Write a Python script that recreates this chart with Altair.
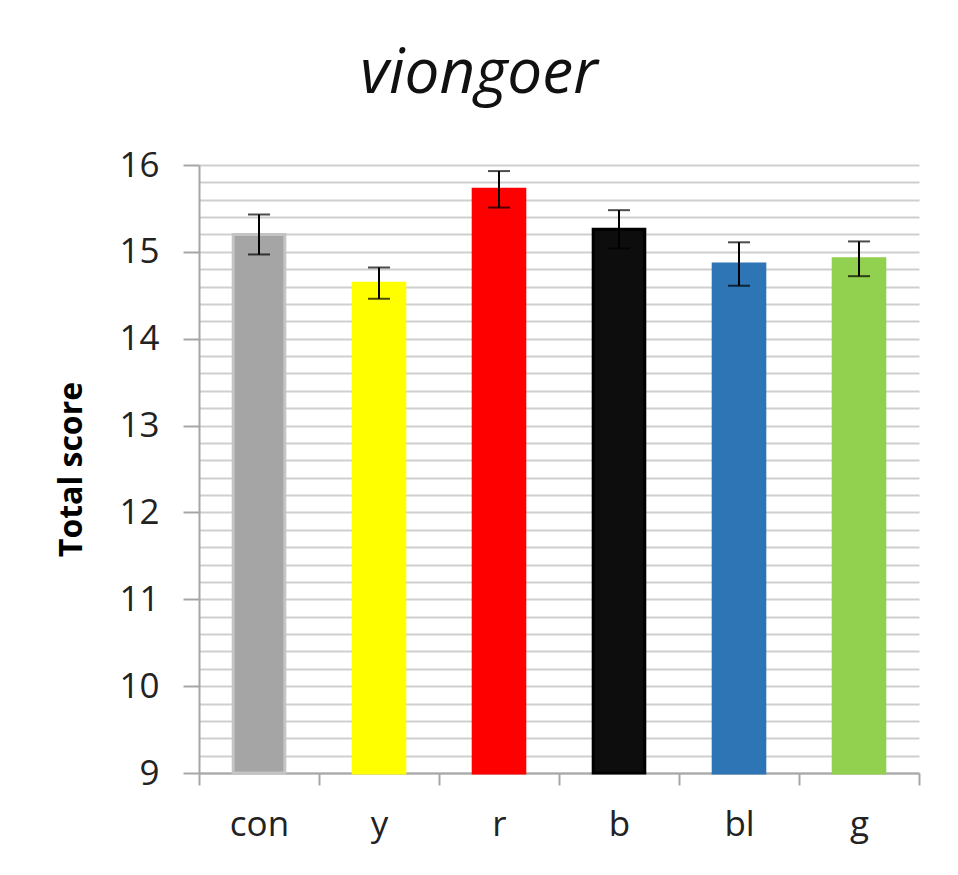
import altair as alt
import pandas as pd

categories = ["con", "y", "r", "b", "bl", "g"]
means = [15.20, 14.64, 15.72, 15.26, 14.86, 14.92]
errors = [0.23, 0.18, 0.21, 0.22, 0.25, 0.20]
bar_colors = ["#A5A5A5", "#FFFF00", "#FF0000", "#0D0D0D", "#2E75B6", "#92D050"]
bar_strokes = ["#C4C4C4", "#FFFF00", "#FF0000", "#000000", "#2E75B6", "#92D050"]
grid_values = [round(9 + 0.2 * i, 1) for i in range(36)]

df = pd.DataFrame({
    "cat": categories,
    "mean": means,
    "lo": [m - e for m, e in zip(means, errors)],
    "hi": [m + e for m, e in zip(means, errors)],
    "base": [9] * len(categories),
})

FONT = "Open Sans"

x_enc = alt.X(
    "cat:N",
    sort=categories,
    scale=alt.Scale(paddingInner=0, paddingOuter=0),
    axis=alt.Axis(
        title=None,
        tickBand="extent",
        domainColor="#A6A6A6",
        domainWidth=2,
        tickColor="#A6A6A6",
        tickWidth=2,
        tickSize=12,
        labelFont=FONT,
        labelFontSize=35,
        labelColor="#222222",
        labelAngle=0,
        labelBaseline="alphabetic",
        labelPadding=50,
        grid=False,
    ),
)

y_scale = alt.Scale(domain=[9, 16], nice=False, zero=False)

y_axis = alt.Axis(
    values=grid_values,
    tickCount=100,
    format=".0f",
    labelExpr="abs(datum.value - round(datum.value)) < 0.01 ? datum.label : ''",
    labelOverlap=False,
    labelBound=False,
    labelFont=FONT,
    labelFontSize=35,
    labelColor="#222222",
    labelPadding=24,
    labelBaseline="middle",
    tickSize=16,
    tickWidth=2,
    tickColor="#A6A6A6",
    tickOpacity={"condition": {"test": "abs(datum.value - round(datum.value)) < 0.01", "value": 1}, "value": 0},
    domainColor="#A6A6A6",
    domainWidth=2,
    grid=True,
    gridColor="#CFCFCF",
    gridWidth=2,
    title="Total score",
    titleFont=FONT,
    titleFontSize=32,
    titleFontWeight="bold",
    titleColor="#000000",
    titleAngle=270,
    titleX=-128,
    titleY=304,
    titleAlign="center",
    titleBaseline="middle",
)

bars = alt.Chart(df).mark_bar(width={"band": 0.43}, strokeWidth=3).encode(
    x=x_enc,
    y=alt.Y("mean:Q", scale=y_scale, axis=y_axis),
    y2="base:Q",
    color=alt.Color("cat:N", scale=alt.Scale(domain=categories, range=bar_colors), legend=None),
    stroke=alt.Stroke("cat:N", scale=alt.Scale(domain=categories, range=bar_strokes), legend=None),
)

rules = alt.Chart(df).mark_rule(color="#000000", strokeWidth=2).encode(
    x=alt.X("cat:N", sort=categories),
    y=alt.Y("lo:Q", scale=y_scale),
    y2="hi:Q",
)

cap_lo = alt.Chart(df).mark_tick(color="#000000", size=22, thickness=2, orient="horizontal").encode(
    x=alt.X("cat:N", sort=categories),
    y=alt.Y("lo:Q", scale=y_scale),
)
cap_hi = alt.Chart(df).mark_tick(color="#000000", size=22, thickness=2, orient="horizontal").encode(
    x=alt.X("cat:N", sort=categories),
    y=alt.Y("hi:Q", scale=y_scale),
)

chart = alt.layer(bars, rules, cap_lo, cap_hi).properties(
    width=720,
    height=608,
    title=alt.TitleParams(
        text="viongoer",
        font=FONT,
        fontSize=62,
        fontStyle="italic",
        fontWeight="normal",
        color="#111111",
        anchor="middle",
        frame="group",
        baseline="alphabetic",
        offset=15,
        dy=22,
        dx=-80,
    ),
    autosize=alt.AutoSizeParams(type="none"),
    padding={"left": 191, "top": 157, "right": 31, "bottom": 94},
    background="#FFFFFF",
).configure_view(stroke=None)

chart.save("out.html", embed_options={"renderer": "svg", "actions": False})
